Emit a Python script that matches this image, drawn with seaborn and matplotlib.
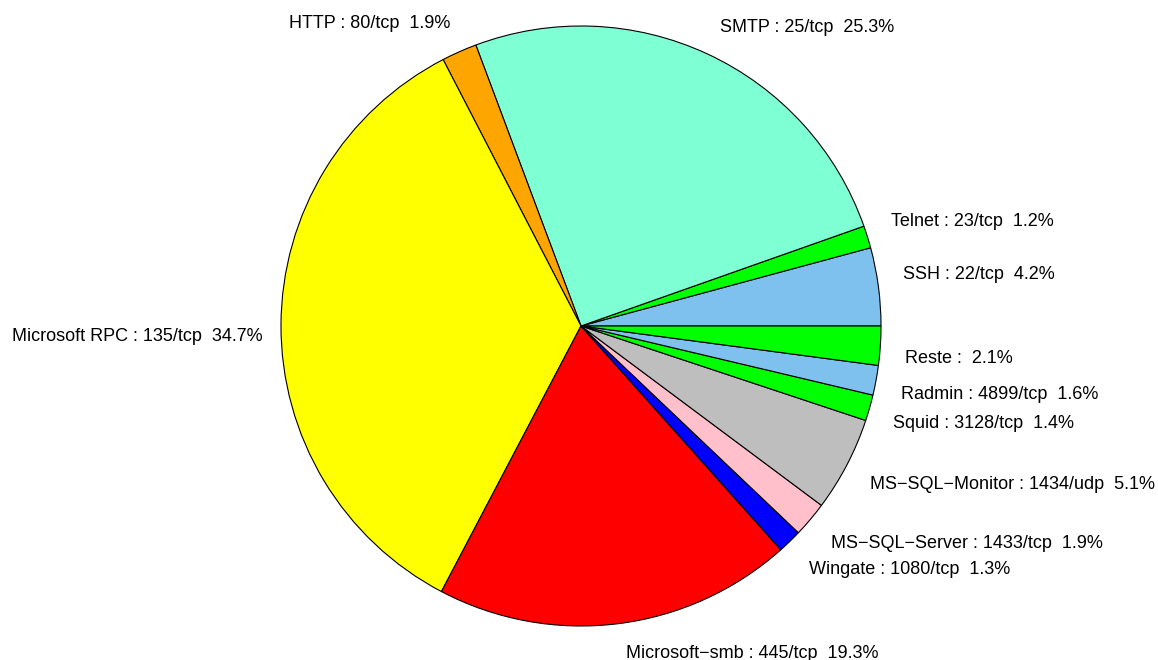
import matplotlib
matplotlib.use("Agg")
import matplotlib.pyplot as plt
import seaborn as sns

services = ["SSH : 22/tcp", "Telnet : 23/tcp", "SMTP : 25/tcp", "HTTP : 80/tcp",
            "Microsoft RPC : 135/tcp", "Microsoft\u2212smb : 445/tcp",
            "Wingate : 1080/tcp", "MS\u2212SQL\u2212Server : 1433/tcp",
            "MS\u2212SQL\u2212Monitor : 1434/udp", "Squid : 3128/tcp",
            "Radmin : 4899/tcp", "Reste :"]
shares = [4.2, 1.2, 25.3, 1.9, 34.7, 19.3, 1.3, 1.9, 5.1, 1.4, 1.6, 2.1]
colors = ["#7EC0EE", "#00FF00", "#7FFFD4", "#FFA500", "#FFFF00", "#FF0000",
          "#0000FF", "#FFC0CB", "#BEBEBE", "#00FF00", "#7EC0EE", "#00FF00"]

# small label nudges in pixels (dx right, dy down) to follow the original layout
nudges = [(-5, -8), (-5, -6), (-1, 1), (3, -1), (12, 12), (5, 0),
          (-2, 7), (-2, 5), (-4, 6), (-5, 7), (-5, 9), (-5, 11)]

sns.set_theme(style="white")
plt.rcParams["font.family"] = ["Liberation Sans", "DejaVu Sans"]

labels = [f"{s}  {p}%" for s, p in zip(services, shares)]

fig = plt.figure(figsize=(11.58, 6.6), dpi=100)
ax = fig.add_axes([0, 0, 1, 1])
wedges, texts = ax.pie(shares, labels=labels, colors=colors, startangle=0,
                       counterclock=True, labeldistance=1.1, radius=1,
                       wedgeprops={"edgecolor": "black", "linewidth": 0.8},
                       textprops={"fontsize": 13, "color": "black"})
px = 1 / 300  # one pixel in data units (radius = 300 px)
for t, (dx, dy) in zip(texts, nudges):
    x, y = t.get_position()
    t.set_position((x + dx * px, y - dy * px))

# center at (581, 326) px, radius 300 px
ax.set_xlim(-581 / 300, (1158 - 581) / 300)
ax.set_ylim(-(660 - 326) / 300, 326 / 300)
ax.set_aspect("auto")
ax.axis("off")

fig.savefig("out.png", dpi=100)
